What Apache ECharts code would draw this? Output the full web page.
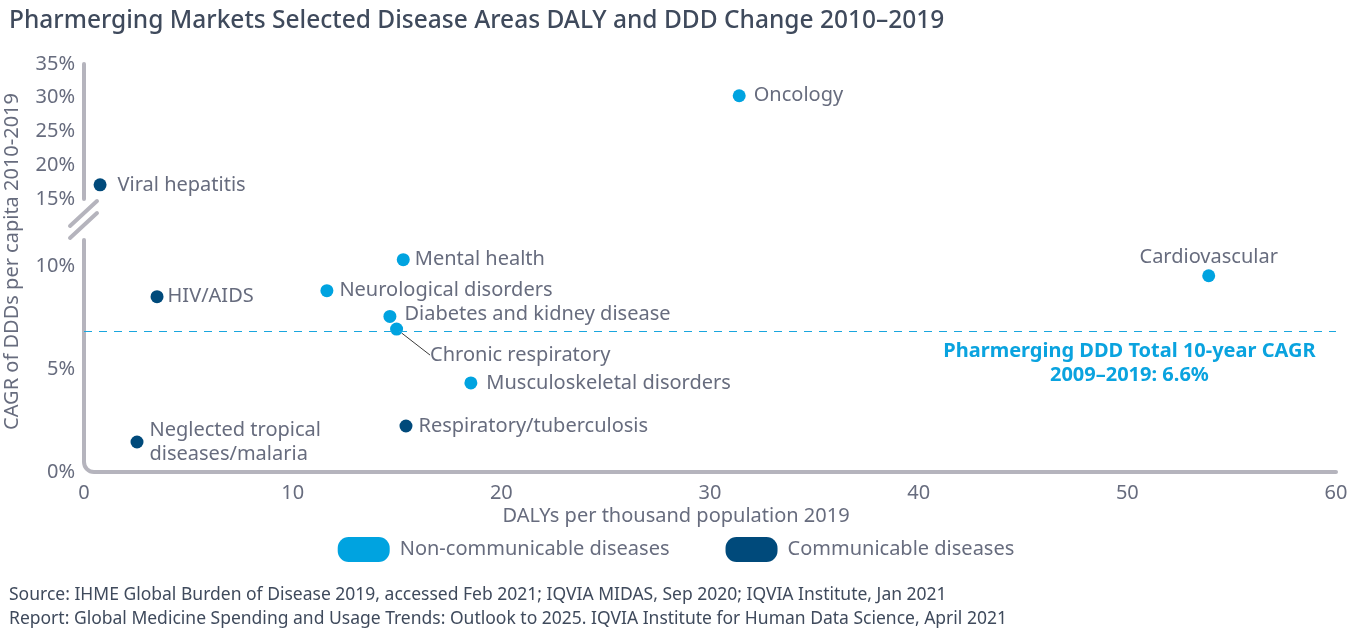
<!DOCTYPE html>
<html>
<head>
<meta charset="utf-8">
<script src="https://cdn.jsdelivr.net/npm/echarts@6/dist/echarts.min.js"></script>
<style>
html,body{margin:0;padding:0;background:#fff;}
#chart{width:1352px;height:641px;}
</style>
</head>
<body>
<div id="chart"></div>
<script>
// values
var diseases = ['Oncology', 'Viral hepatitis', 'Mental health', 'Cardiovascular', 'HIV/AIDS',
    'Neurological disorders', 'Diabetes and kidney disease', 'Chronic respiratory',
    'Musculoskeletal disorders', 'Respiratory/tuberculosis', 'Neglected tropical\ndiseases/malaria'];
var dalys = [31.4, 0.77, 15.3, 53.9, 3.5, 11.64, 14.66, 14.98, 18.54, 15.43, 2.54];
var cagr = [30.3, 17.1, 10.34, 9.56, 8.54, 8.83, 7.58, 6.96, 4.34, 2.24, 1.46];
var group = ['NCD', 'CD', 'NCD', 'NCD', 'CD', 'NCD', 'NCD', 'NCD', 'NCD', 'CD', 'CD'];
var groupNames = {NCD: 'Non-communicable diseases', CD: 'Communicable diseases'};
var refLine = 6.85;
var refLabel = 'Pharmerging DDD Total 10-year CAGR\n2009–2019: 6.6%';
var refLabelX = 50.1;
var xTicks = [0, 60, 10];
var upperTicks = [15, 35, 5];
var lowerTicks = [0, 11.3, 5];
var breakAt = 13;

var light = '#00a3e0', dark = '#004a7b';
var grayText = '#676c7e', axisGray = '#b5b4bd';
var font = 'Noto Sans';

var chart = echarts.init(document.getElementById('chart'));

// label spacing per point
var labelDist = {
    'Oncology': 8, 'Viral hepatitis': 11, 'Mental health': 5, 'HIV/AIDS': 4,
    'Neurological disorders': 6, 'Diabetes and kidney disease': 8, 'Chronic respiratory': 0,
    'Musculoskeletal disorders': 9, 'Respiratory/tuberculosis': 6,
    'Neglected tropical\ndiseases/malaria': 6
};

function points(g, upper) {
    var out = [];
    for (var i = 0; i < diseases.length; i++) {
        if (group[i] !== g) continue;
        if ((cagr[i] > breakAt) !== upper) continue;
        var item = {name: diseases[i], value: [dalys[i], cagr[i]]};
        if (diseases[i] === 'Cardiovascular') {
            item.label = {position: 'top', distance: 0};
        } else {
            item.label = {position: 'right', distance: labelDist[diseases[i]]};
        }
        if (diseases[i] === 'Chronic respiratory') {
            item.labelLine = {show: true, lineStyle: {color: '#3a3a3a', width: 1}};
        }
        out.push(item);
    }
    return out;
}

function scatter(g, upper) {
    var s = {
        name: groupNames[g],
        type: 'scatter',
        xAxisIndex: upper ? 0 : 1,
        yAxisIndex: upper ? 0 : 1,
        symbolSize: 13,
        itemStyle: {color: g === 'NCD' ? light : dark, opacity: 1},
        label: {
            show: true,
            formatter: '{b}',
            color: grayText,
            fontFamily: font,
            fontSize: 20,
            lineHeight: 24
        },
        labelLayout: function (p) {
            if (p.text === 'Chronic respiratory') return {dx: 27, dy: 26};
            if (p.text === 'Diabetes and kidney disease') return {dy: -2};
            return {};
        },
        emphasis: {disabled: true},
        data: points(g, upper)
    };
    if (!upper && g === 'NCD') {
        s.markLine = {
            silent: true,
            symbol: ['none', 'none'],
            lineStyle: {color: '#1aa6de', type: [8, 7], width: 1, opacity: 1},
            label: {show: false},
            data: [{yAxis: refLine}]
        };
        s.markPoint = {
            silent: true,
            symbol: 'circle',
            symbolSize: 0,
            label: {
                show: true,
                position: 'inside',
                offset: [0, 32],
                formatter: refLabel,
                align: 'center',
                color: '#0aa3df',
                fontFamily: font,
                fontWeight: 'bold',
                fontSize: 20,
                lineHeight: 24
            },
            data: [{coord: [refLabelX, refLine]}]
        };
    }
    return s;
}

var axisLabelStyle = {color: grayText, fontFamily: font, fontSize: 20};
var axisLineStyle = {show: true, lineStyle: {color: axisGray, width: 4, cap: 'round'}};

var option = {
    animation: false,
    title: [
        {
            text: 'Pharmerging Markets Selected Disease Areas DALY and DDD Change 2010–2019',
            left: 4, top: 4,
            textStyle: {color: '#3f4a5c', fontFamily: font, fontWeight: 500, fontSize: 24.5}
        },
        {
            text: 'DALYs per thousand population 2019',
            left: 'center', top: 501,
            textStyle: {color: grayText, fontFamily: font, fontWeight: 'normal', fontSize: 20}
        },
        {
            text: 'Source: IHME Global Burden of Disease 2019, accessed Feb 2021; IQVIA MIDAS, Sep 2020; IQVIA Institute, Jan 2021\nReport: Global Medicine Spending and Usage Trends: Outlook to 2025. IQVIA Institute for Human Data Science, April 2021',
            left: 4, top: 578,
            textStyle: {color: '#3f4a5c', fontFamily: font, fontWeight: 'normal', fontSize: 17.5, lineHeight: 24}
        }
    ],
    legend: {
        left: 'center',
        top: 532,
        itemWidth: 52,
        itemHeight: 25,
        itemGap: 56,
        icon: 'path://M11,0 H41 A11,11 0 0 1 52,11 V14 A11,11 0 0 1 41,25 H11 A11,11 0 0 1 0,14 V11 A11,11 0 0 1 11,0 Z',
        itemStyle: {opacity: 1},
        textStyle: {color: grayText, fontFamily: font, fontSize: 20, padding: [0, 0, 0, 5]},
        data: [groupNames.NCD, groupNames.CD]
    },
    grid: [
        {left: 84, right: 16, top: 64, height: 135},
        {left: 84, right: 16, top: 240, height: 232}
    ],
    xAxis: [
        {gridIndex: 0, type: 'value', min: xTicks[0], max: xTicks[1], interval: xTicks[2], show: false},
        {
            gridIndex: 1, type: 'value', min: xTicks[0], max: xTicks[1], interval: xTicks[2],
            axisLine: axisLineStyle,
            axisTick: {show: false},
            splitLine: {show: false},
            axisLabel: Object.assign({margin: 11}, axisLabelStyle)
        }
    ],
    yAxis: [
        {
            gridIndex: 0, type: 'value', min: upperTicks[0], max: upperTicks[1], interval: upperTicks[2],
            axisLine: axisLineStyle,
            axisTick: {show: false},
            splitLine: {show: false},
            axisLabel: Object.assign({margin: 9, formatter: '{value}%'}, axisLabelStyle)
        },
        {
            gridIndex: 1, type: 'value', min: lowerTicks[0], max: lowerTicks[1], interval: lowerTicks[2],
            axisLine: axisLineStyle,
            axisTick: {show: false},
            splitLine: {show: false},
            axisLabel: Object.assign({margin: 9, formatter: '{value}%', showMaxLabel: false}, axisLabelStyle)
        }
    ],
    graphic: [
        {
            type: 'text', left: 2, top: 93, rotation: Math.PI / 2,
            style: {text: 'CAGR of DDDs per capita 2010-2019', fill: grayText, font: '20px "Noto Sans"'}
        },
        // axis break marks
        {type: 'line', shape: {x1: 97, y1: 201, x2: 70, y2: 226}, style: {stroke: axisGray, lineWidth: 4, lineCap: 'round'}},
        {type: 'line', shape: {x1: 97, y1: 213, x2: 70, y2: 238}, style: {stroke: axisGray, lineWidth: 4, lineCap: 'round'}},
        // rounded corner where the axes meet
        {type: 'rect', z: 100, shape: {x: 80, y: 462, width: 14, height: 14}, style: {fill: '#fff'}},
        {type: 'arc', z: 101, shape: {cx: 94, cy: 462, r: 10, startAngle: Math.PI / 2, endAngle: Math.PI},
            style: {stroke: axisGray, lineWidth: 4, fill: null}}
    ],
    series: [
        scatter('NCD', true),
        scatter('NCD', false),
        scatter('CD', true),
        scatter('CD', false)
    ]
};

chart.setOption(option);
</script>
</body>
</html>
